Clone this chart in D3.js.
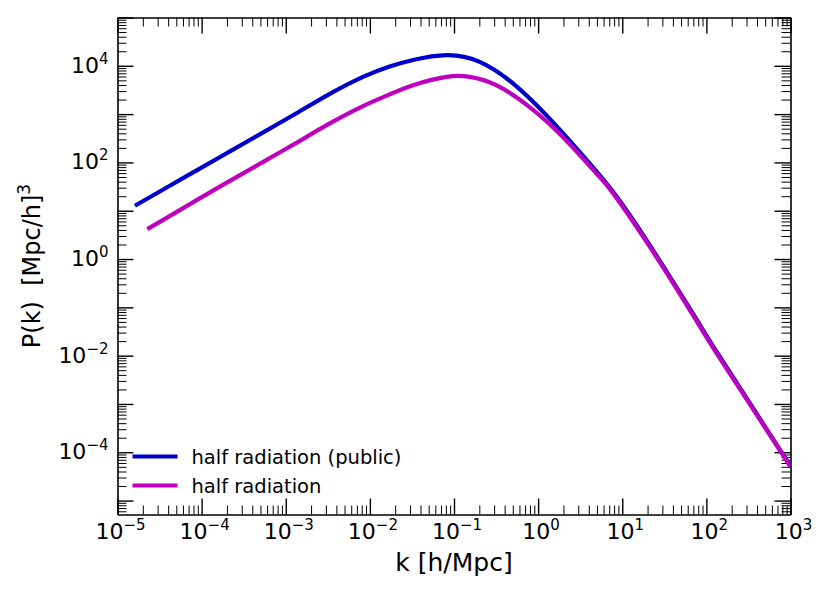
<!DOCTYPE html>
<html>
<head>
<meta charset="utf-8">
<script src="https://cdn.jsdelivr.net/npm/d3@7"></script>
<style>
  body { margin: 0; background: #fff; }
  text { font-family: "DejaVu Sans", sans-serif; fill: #000; }
</style>
</head>
<body>
<div id="chart"></div>
<script>
// values (k in h/Mpc, P(k) in (Mpc/h)^3)
const kPublic = [1.61e-5, 3.5e-5, 8.73e-5, 2.17e-4, 5.4e-4, 1.34e-3, 3.34e-3, 8.3e-3, 0.0172, 0.0326,
                 0.0813, 0.202, 0.502, 1.25, 3.11, 7.73, 21.2, 75.7, 143, 1000];
const pkPublic = [12.7, 27.5, 68.4, 169, 420, 1042, 2630, 5916, 9660, 13180,
                  16670, 12100, 4325, 953, 166, 25.1, 1.94, 0.0575, 0.00977, 5.15e-5];

const kHalf = [2.26e-5, 3.5e-5, 8.73e-5, 2.17e-4, 5.4e-4, 1.34e-3, 3.34e-3, 8.3e-3, 0.0172, 0.0326,
               0.0813, 0.154, 0.318, 0.793, 1.97, 4.91, 7.73, 21.2, 75.7, 143, 1000];
const pkHalf = [4.17, 6.46, 16.6, 41.6, 102.8, 254.7, 641, 1466, 2559, 3981,
                5916, 5916, 3981, 1396, 334, 59.6, 23.4, 1.81, 0.0537, 0.0091, 5.04e-5];

const seriesNames = ['half radiation (public)', 'half radiation'];
const seriesColors = ['#0000cd', '#bf00bf'];

const xTickExp = [-5, -4, -3, -2, -1, 0, 1, 2, 3];
const yTickExp = [-4, -2, 0, 2, 4];

let svgWidth = 830, svgHeight = 593;
let margin = {left: 117.5, top: 17.5, right: 39.5, bottom: 78.5};
let width = svgWidth - margin.left - margin.right;
let height = svgHeight - margin.top - margin.bottom;

let svg = d3.select('#chart').append('svg')
    .attr('width', svgWidth)
    .attr('height', svgHeight);

let g = svg.append('g')
    .attr('transform', 'translate(' + margin.left + ',' + margin.top + ')');

let x = d3.scaleLog()
    .domain([1e-5, 1e3])
    .range([0, width]);

let y = d3.scaleLog()
    .domain([5.15e-6, 1e5])
    .range([height, 0]);

// minor ticks 2..9 in every decade inside the domain
function minorTicks(scale) {
    let d = scale.domain();
    let lo = Math.floor(Math.log10(d[0])), hi = Math.ceil(Math.log10(d[1]));
    let out = [];
    for (let e = lo; e < hi; e++) {
        for (let m = 2; m <= 9; m++) {
            let v = m * Math.pow(10, e);
            if (v >= d[0] && v <= d[1]) out.push(v);
        }
    }
    return out;
}
function majorTicks(scale) {
    let d = scale.domain();
    let out = [];
    for (let e = Math.ceil(Math.log10(d[0])); e <= Math.floor(Math.log10(d[1]) + 1e-9); e++) out.push(Math.pow(10, e));
    return out;
}

let majorLen = 16, minorLen = 9;

function drawAxis(axisFn, scale, transform) {
    let ga = g.append('g').attr('transform', transform);
    ga.append('g').call(axisFn(scale).tickValues(minorTicks(scale)).tickSizeInner(-minorLen).tickSizeOuter(0).tickFormat(() => ''))
        .call(s => s.selectAll('.tick line').attr('stroke-width', 1))
        .call(s => s.select('.domain').remove());
    ga.append('g').call(axisFn(scale).tickValues(majorTicks(scale)).tickSizeInner(-majorLen).tickSizeOuter(0).tickFormat(() => ''))
        .call(s => s.selectAll('.tick line').attr('stroke-width', 1.4))
        .call(s => s.select('.domain').attr('stroke-width', 1.6));
}

drawAxis(d3.axisBottom, x, 'translate(0,' + height + ')');
drawAxis(d3.axisTop, x, 'translate(0,0)');
drawAxis(d3.axisLeft, y, 'translate(0,0)');
drawAxis(d3.axisRight, y, 'translate(' + width + ',0)');

// tick labels as 10^n
function powLabel(sel, exp) {
    sel.append('tspan').text('10');
    sel.append('tspan')
        .attr('dy', -9)
        .attr('font-size', 15)
        .text(String(exp).replace('-', '\u2212'));
}

xTickExp.forEach(e => {
    let t = g.append('text')
        .attr('x', x(Math.pow(10, e)) + 3)
        .attr('y', height + 24)
        .attr('text-anchor', 'middle')
        .attr('font-size', 22);
    powLabel(t, e);
});

yTickExp.forEach(e => {
    let t = g.append('text')
        .attr('x', -9)
        .attr('y', y(Math.pow(10, e)) + 7)
        .attr('text-anchor', 'end')
        .attr('font-size', 22);
    powLabel(t, e);
});

// axis labels
g.append('text')
    .attr('x', width / 2)
    .attr('y', height + 56)
    .attr('text-anchor', 'middle')
    .attr('font-size', 25)
    .text('k [h/Mpc]');

let yl = svg.append('text')
    .attr('transform', 'translate(40,266) rotate(-90)')
    .attr('text-anchor', 'middle')
    .attr('font-size', 24);
yl.append('tspan').text('P(k)\u00a0\u00a0[Mpc/h]');
yl.append('tspan').attr('dy', -10).attr('font-size', 17).text('3');

// curves
g.append('clipPath').attr('id', 'clip')
    .append('rect').attr('width', width).attr('height', height);

let line = d3.line()
    .x(d => x(d[0]))
    .y(d => y(d[1]))
    .curve(d3.curveNatural);

let series = [
    d3.zip(kPublic, pkPublic),
    d3.zip(kHalf, pkHalf)
];

let plot = g.append('g').attr('clip-path', 'url(#clip)');
series.forEach((s, i) => {
    plot.append('path')
        .datum(s)
        .attr('d', line)
        .attr('fill', 'none')
        .attr('stroke', seriesColors[i])
        .attr('stroke-width', 4.2);
});

// legend
let leg = g.append('g');
seriesNames.forEach((name, i) => {
    let ly = 439 + i * 29;
    leg.append('line')
        .attr('x1', 15).attr('x2', 60)
        .attr('y1', ly).attr('y2', ly)
        .attr('stroke', seriesColors[i])
        .attr('stroke-width', 4);
    leg.append('text')
        .attr('x', 74)
        .attr('y', ly + 7)
        .attr('font-size', 19.5)
        .text(name);
});
</script>
</body>
</html>
